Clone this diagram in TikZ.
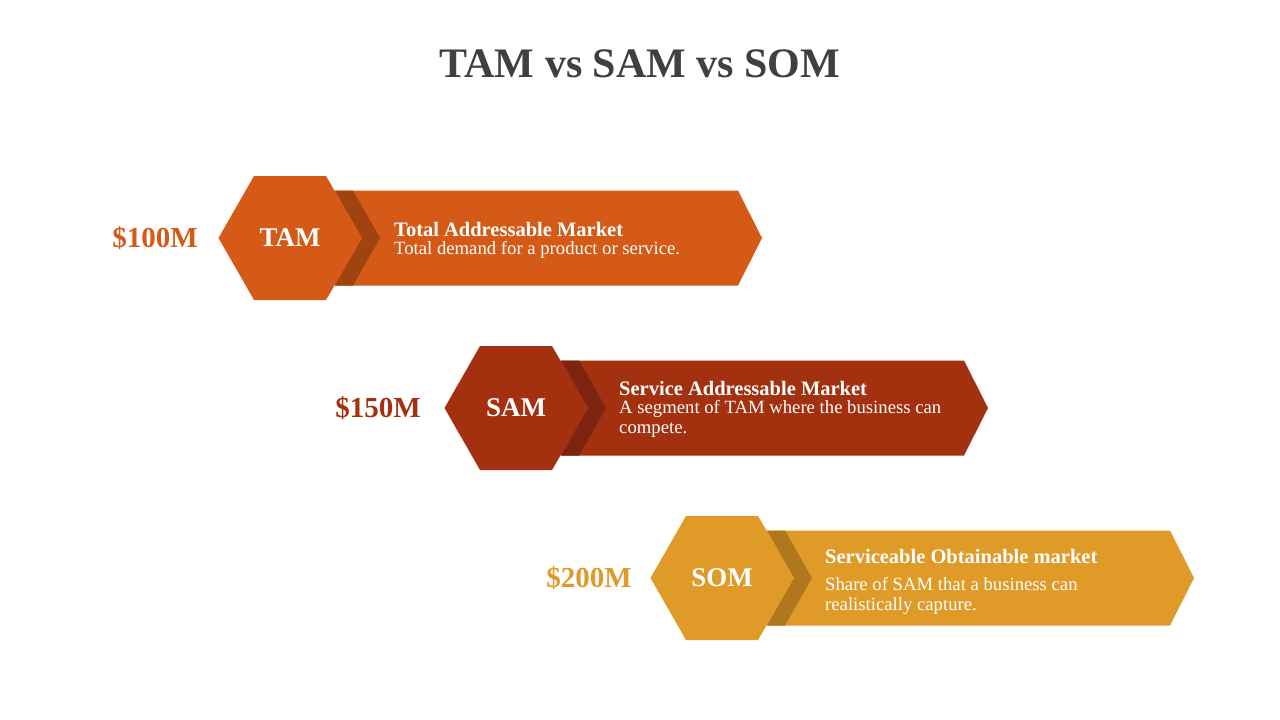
\documentclass[tikz,border=0pt]{standalone}
\usepackage{fontspec}
\setmainfont{Liberation Serif}
\usetikzlibrary{calc}

\definecolor{titlegray}{HTML}{404040}
\definecolor{tamcol}{HTML}{D55A17}
\definecolor{tamdark}{HTML}{A0440F}
\definecolor{samcol}{HTML}{A3300F}
\definecolor{samdark}{HTML}{7D2410}
\definecolor{somcol}{HTML}{E09A28}
\definecolor{somdark}{HTML}{B0781C}

\tikzset{
  hexlabel/.style={text=white, font=\fontsize{27}{30}\selectfont\bfseries, inner sep=0pt},
  valuelabel/.style={font=\fontsize{29}{32}\selectfont\bfseries, inner sep=0pt, anchor=east},
  bannerhead/.style={text=white, font=\fontsize{20.5}{22}\selectfont\bfseries, inner sep=0pt, anchor=base west},
  bannertext/.style={text=white, font=\fontsize{18.7}{20}\selectfont, inner sep=0pt, anchor=base west}
}

\begin{document}
\begin{tikzpicture}[x=1pt,y=-1pt, line join=round]
	\useasboundingbox (0,0) rectangle (1280,720);
	\fill[white] (0,0) rectangle (1280,720);
	% title
	\node[text=titlegray, font=\fontsize{42}{46}\selectfont\bfseries, anchor=base, inner sep=0pt] (title) at (640,77) {TAM vs SAM vs SOM};
	% the three rows: banner, dark chevron, hexagon
	\foreach \nm/\cx/\cy/\col/\dk in {tam/290/238/tamcol/tamdark, sam/516/408/samcol/samdark, som/722/578/somcol/somdark}{
		\begin{scope}[shift={(\cx,\cy)}]
			\fill[\col] (45,-47.5) -- (448,-47.5) -- (472,0) -- (448,47.5) -- (45,47.5) -- cycle;
			\fill[\dk] (45,-47.5) -- (63,-47.5) -- (90,0) -- (63,47.5) -- (45,47.5) -- (72,0) -- cycle;
			\fill[\col] (-71.5,0) -- (-36,-62) -- (36,-62) -- (72,0) -- (36,62) -- (-36,62) -- cycle;
			\coordinate (\nm) at (0,0);
		\end{scope}
	}
	% hexagon labels
	\node[hexlabel] (tamlbl) at (tam) {TAM};
	\node[hexlabel] (samlbl) at (sam) {SAM};
	\node[hexlabel] (somlbl) at (som) {SOM};
	% values
	\node[valuelabel, text=tamcol] (tamval) at ($(tam)+(-92,0)$) {\$100M};
	\node[valuelabel, text=samcol] (samval) at ($(sam)+(-95,0)$) {\$150M};
	\node[valuelabel, text=somcol] (somval) at ($(som)+(-90,0)$) {\$200M};
	% banner texts
	\node[bannerhead] (tamhead) at ($(tam)+(104,-2)$) {Total Addressable Market};
	\node[bannertext] (tamtxt) at ($(tam)+(104,16)$) {Total demand for a product or service.};
	\node[bannerhead] (samhead) at ($(sam)+(103,-13)$) {Service Addressable Market};
	\node[bannertext] (samtxta) at ($(sam)+(103,5)$) {A segment of TAM where the business can};
	\node[bannertext] (samtxtb) at ($(sam)+(103,25)$) {compete.};
	\node[bannerhead] (somhead) at ($(som)+(103,-15)$) {Serviceable Obtainable market};
	\node[bannertext] (somtxta) at ($(som)+(103,12)$) {Share of SAM that a business can};
	\node[bannertext] (somtxtb) at ($(som)+(103,32)$) {realistically\ capture.};
\end{tikzpicture}
\end{document}
